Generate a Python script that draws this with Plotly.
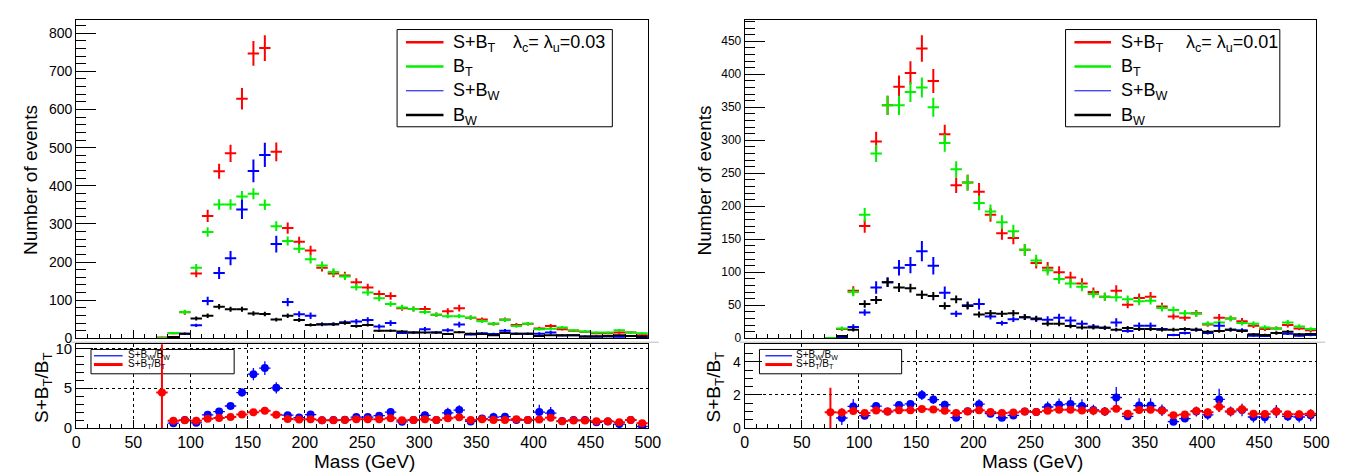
import math
import plotly.graph_objects as go

W, H = 1349, 472
FONT = "Liberation Sans, Arial, Helvetica, sans-serif"

# bin centres (GeV), bins below 70 GeV are empty
mass = [75, 85, 95, 105, 115, 125, 135, 145, 155, 165,
        175, 185, 195, 205, 215, 225, 235, 245, 255, 265,
        275, 285, 295, 305, 315, 325, 335, 345, 355, 365,
        375, 385, 395, 405, 415, 425, 435, 445, 455, 465,
        475, 485, 495]

# ---- left panel: lambda_c = lambda_u = 0.03 ----
L_SBT = [2.0, 13, 68, 170, 321, 438, 485, 628, 747, 761,
         489, 289, 253, 230, 185, 170, 165, 147, 133, 116,
         111, 79, 77, 77, 62, 71, 79, 54, 49, 38,
         49, 35, 38, 26, 32, 24, 20, 17, 13, 13,
         15, 15, 8]
L_BT = [0.45, 14, 69, 185, 279, 351, 351, 372, 379, 350,
        294, 255, 235, 207, 191, 174, 162, 134, 120, 105,
        90, 81, 77, 69, 62, 58, 58, 54, 45, 38,
        48, 32, 38, 24, 25, 28, 21, 18, 15, 15,
        21, 15, 13]
L_SBW = [0, 2, 12, 34, 98, 171, 210, 338, 439, 481,
         247, 95, 63, 59, 36, 37, 42, 44, 48, 31,
         40, 14, 15, 24, 15, 21, 36, 10, 13, 11,
         20, 12, 12, 12, 15, 7, 8, 5, 4, 5,
         4, 6, 1]
L_BW = [0, 3.3, 12, 52, 59, 83, 76, 76, 65, 64,
        49, 59, 48, 35, 37, 37, 40, 32, 35, 20,
        20, 18, 15, 15, 15, 11, 16, 12, 11, 8,
        14, 12, 12, 6, 8, 8, 8, 5, 5.5, 6,
        8, 6, 5]

# ---- right panel: lambda_c = lambda_u = 0.01 ----
R_SBT = [0.5, 14, 72, 170, 298, 353, 381, 402, 439, 390,
         309, 232, 236, 222, 187, 159, 152, 134, 114, 107,
         100, 92, 83, 70, 63, 72, 51, 61, 63, 48,
         33, 31, 38, 21, 31, 30, 26, 19, 14, 15,
         20, 15, 12]
R_BT = [0.52, 15, 70, 187, 280, 353, 353, 373, 380, 350,
        296, 256, 236, 205, 192, 176, 162, 134, 118, 103,
        90, 83, 78, 67, 63, 62, 59, 56, 57, 46,
        43, 38, 37, 22, 24, 30, 23, 22, 16.5, 15,
        24, 18, 14]
R_SBW = [0, 2, 17, 39, 77, 85, 107, 111, 132, 110,
         69, 37, 50, 52, 33, 23, 29, 32, 29, 28,
         31, 27, 22, 18, 16, 24, 11, 19, 19, 14,
         5, 8, 13, 8, 19, 13, 12, 4, 3.3, 8,
         7, 4, 5]
R_BW = [0, 3.3, 13, 52, 58, 85, 77, 76, 66, 64,
        49, 59, 49, 36, 38, 37, 38, 32, 30, 22,
        22, 18.5, 16.5, 16.5, 16, 13, 15.5, 14, 14, 13,
        13, 14, 13, 10, 11, 13, 11, 6, 5, 8,
        10, 6, 6.5]

# event weights used for the statistical error bars
L_WS, L_WB = 2.3, 0.55
R_WS, R_WB = 3.0, 0.6

RED, GREEN, BLUE, BLACK = "#ff0000", "#00f000", "#0000ff", "#000000"


def err_sb(sb, b, ws, wb):
    return [math.sqrt(ws * max(a - c, 0) + wb * min(a, c)) for a, c in zip(sb, b)]


def err_b(b, wb):
    return [math.sqrt(wb * c) for c in b]


def nz(vals, errs):
    xs, ys, es = [], [], []
    for m, v, e in zip(mass, vals, errs):
        if v > 0:
            xs.append(m); ys.append(v); es.append(e)
    return xs, ys, es


def ratio(sb, b, esb, eb):
    xs, rs, es = [], [], []
    for m, a, c, ea, ec in zip(mass, sb, b, esb, eb):
        if a > 0 and c > 0:
            q = a / c
            xs.append(m); rs.append(q)
            es.append(q * math.sqrt((ea / a) ** 2 + (ec / c) ** 2))
    return xs, rs, es


fig = go.Figure()


def add_hist(vals, errs, color, xa, ya, thick=2):
    xs, ys, es = nz(vals, errs)
    fig.add_trace(go.Scatter(
        x=xs, y=ys, mode="markers", xaxis=xa, yaxis=ya, showlegend=False,
        marker=dict(size=0.1, color=color, opacity=0),
        error_x=dict(type="constant", value=5, color=color, thickness=thick, width=0),
        error_y=dict(type="data", array=es, color=color, thickness=thick, width=0),
        hoverinfo="skip"))


def add_ratio(xs, rs, es, color, xa, ya, thick):
    fig.add_trace(go.Scatter(
        x=xs, y=rs, mode="markers", xaxis=xa, yaxis=ya, showlegend=False,
        marker=dict(size=8, color=color, symbol="circle"),
        error_x=dict(type="constant", value=5, color=color, thickness=thick, width=0),
        error_y=dict(type="data", array=es, color=color, thickness=thick, width=0),
        hoverinfo="skip"))


for (SBT, BT, SBW, BW, WS, WB, xm, ym, xr, yr) in [
        (L_SBT, L_BT, L_SBW, L_BW, L_WS, L_WB, "x", "y", "x2", "y2"),
        (R_SBT, R_BT, R_SBW, R_BW, R_WS, R_WB, "x3", "y3", "x4", "y4")]:
    e_sbt = err_sb(SBT, BT, WS, WB)
    e_bt = err_b(BT, WB)
    e_sbw = err_sb(SBW, BW, WS, WB)
    e_bw = err_b(BW, WB)
    add_hist(SBT, e_sbt, RED, xm, ym)
    add_hist(BT, e_bt, GREEN, xm, ym)
    add_hist(SBW, e_sbw, BLUE, xm, ym)
    add_hist(BW, e_bw, BLACK, xm, ym)
    xs, rs, es = ratio(SBW, BW, e_sbw, e_bw)
    add_ratio(xs, rs, es, BLUE, xr, yr, 1.3)
    xs, rs, es = ratio(SBT, BT, e_sbt, e_bt)
    add_ratio(xs, rs, es, RED, xr, yr, 2)

# ---------------- layout ----------------
def px(x):
    return x / W


def py(y):
    return 1 - y / H


XL = [px(65), px(644)]
XR = [px(742), px(1321)]
YM = [py(334.5), py(6.7)]
YR = [py(426.8), py(340.7)]
L_RMAX = 10.5

base = dict(showline=True, linecolor="black", linewidth=1, mirror=True,
            ticks="inside", tickcolor="black", tickwidth=1, zeroline=False,
            showgrid=False, color="black")

main_x = dict(base, range=[0, 500], tick0=0, dtick=50, ticklen=8,
              showticklabels=False,
              minor=dict(ticks="inside", dtick=10, ticklen=4, tickcolor="black", showgrid=False))
ratio_x = dict(base, range=[0, 500], tick0=0, dtick=50, ticklen=8,
               tickfont=dict(family=FONT, size=16, color="black"),
               showgrid=True, gridcolor="black", griddash="dot", gridwidth=1,
               minor=dict(ticks="inside", dtick=10, ticklen=4, tickcolor="black", showgrid=False))

fig.update_layout(
    width=W, height=H, margin=dict(l=0, r=0, t=0, b=0),
    paper_bgcolor="white", plot_bgcolor="white",
    font=dict(family=FONT, color="black"),
    xaxis=dict(main_x, domain=XL, anchor="y"),
    yaxis=dict(base, domain=YM, anchor="x", range=[0, 836], tick0=0, dtick=100, ticklen=20,
               tickfont=dict(family=FONT, size=14, color="black"),
               minor=dict(ticks="inside", dtick=20, ticklen=10, tickcolor="black", showgrid=False)),
    xaxis2=dict(ratio_x, domain=XL, anchor="y2"),
    yaxis2=dict(base, domain=YR, anchor="x2", range=[0, L_RMAX], tick0=0, dtick=5, ticklen=17,
                tickfont=dict(family=FONT, size=15, color="black"),
                showgrid=True, gridcolor="black", griddash="dot", gridwidth=1,
                minor=dict(ticks="inside", dtick=1, ticklen=8, tickcolor="black", showgrid=False)),
    xaxis3=dict(main_x, domain=XR, anchor="y3"),
    yaxis3=dict(base, domain=YM, anchor="x3", range=[0, 483], tick0=0, dtick=50, ticklen=20,
                tickfont=dict(family=FONT, size=12, color="black"),
                minor=dict(ticks="inside", dtick=10, ticklen=10, tickcolor="black", showgrid=False)),
    xaxis4=dict(ratio_x, domain=XR, anchor="y4"),
    yaxis4=dict(base, domain=YR, anchor="x4", range=[0, 5.06], tick0=0, dtick=2, ticklen=17,
                tickfont=dict(family=FONT, size=14, color="black"),
                showgrid=True, gridcolor="black", griddash="dot", gridwidth=1,
                minor=dict(ticks="inside", dtick=0.5, ticklen=8, tickcolor="black", showgrid=False)),
)

shapes = []
annos = []


def text(x, y, s, size, anchor="left", angle=0):
    annos.append(dict(x=px(x), y=py(y), xref="paper", yref="paper", text=s, showarrow=False,
                      xanchor=anchor, yanchor="middle", textangle=angle,
                      font=dict(family=FONT, size=size, color="black")))


def pline(x0, x1, y, color, width):
    shapes.append(dict(type="line", xref="paper", yref="paper", x0=px(x0), x1=px(x1),
                       y0=py(y), y1=py(y), line=dict(color=color, width=width), layer="above"))


# pad borders
pline(60, 655, 338.5, "#bbbbbb", 1)
pline(737, 1330, 338.5, "#bbbbbb", 1)

# axis titles
for xt, xc, xrt in [(18, 357, 32), (701, 1034, 712)]:
    text(xt, 172, "Number of events", 19, "center", -90)
    text(xc, 461, "Mass (GeV)", 19, "center")
    text(xrt, 385, "S+B<sub>T</sub>/B<sub>T</sub>", 19, "center", -90)

# main legends
for (bx0, bx1, lx0, lx1, tx, lamx, lam) in [
        (390, 608, 399, 437, 445, 505, "0.03"),
        (1067, 1284, 1076, 1113, 1121, 1187, "0.01")]:
    shapes.append(dict(type="rect", xref="paper", yref="paper", x0=px(bx0), x1=px(bx1),
                       y0=py(117), y1=py(17), line=dict(color="black", width=1),
                       fillcolor="white", layer="above"))
    rows = [(30, RED, 2.5, "S+B<sub>T</sub>"), (55, GREEN, 2.5, "B<sub>T</sub>"),
            (80, BLUE, 1, "S+B<sub>W</sub>"), (105, BLACK, 2.5, "B<sub>W</sub>")]
    for yy, c, wdt, s in rows:
        pline(lx0, lx1, yy, c, wdt)
        text(tx, yy + 1, s, 18)
    text(lamx, 31, "λ<sub>c</sub>= λ<sub>u</sub>=" + lam, 18)

# ratio legends (box drawn between grid and data, in data coordinates)
for (xa, ya, xpx0, ymax, bx0, bx1, lx0, lx1, tx) in [
        ("x2", "y2", 65, L_RMAX, 80, 225, 83, 112, 115),
        ("x4", "y4", 742, 5.06, 757, 901, 763, 790, 792)]:
    def dx(p, xpx0=xpx0):
        return (p - xpx0) / (579 / 500)

    def dy(p, ymax=ymax):
        return (426.8 - p) / (86.1 / ymax)

    shapes.append(dict(type="rect", xref=xa, yref=ya, x0=dx(bx0), x1=dx(bx1),
                       y0=dy(371), y1=dy(346), line=dict(color="black", width=1),
                       fillcolor="white", layer="between"))
    pline(lx0, lx1, 352.5, BLUE, 1.2)
    pline(lx0, lx1, 361.5, RED, 3)
    text(tx, 352, "S+B<sub>W</sub>/B<sub>W</sub>", 10)
    text(tx, 361, "S+B<sub>T</sub>/B<sub>T</sub>", 10)

fig.update_layout(shapes=shapes, annotations=annos)
fig.write_html("out.html")
